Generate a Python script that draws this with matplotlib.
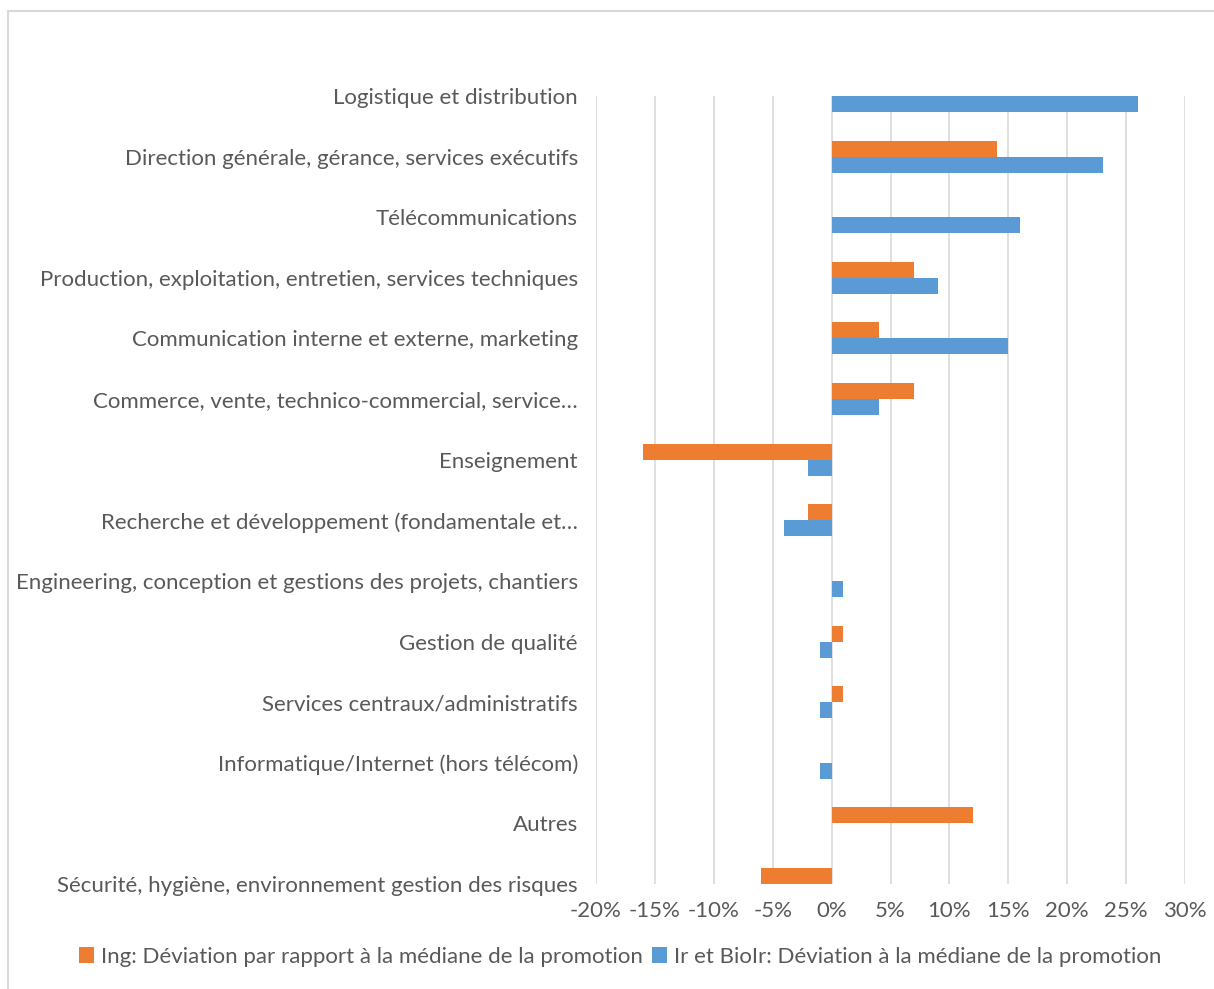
import matplotlib
matplotlib.use("Agg")
import matplotlib.pyplot as plt
import numpy as np
from matplotlib.patches import Rectangle
from matplotlib.ticker import FuncFormatter, MultipleLocator

plt.rcParams["font.family"] = ["Lato", "DejaVu Sans"]

categories = [
    "Logistique et distribution",
    "Direction générale, gérance, services exécutifs",
    "Télécommunications",
    "Production, exploitation, entretien, services techniques",
    "Communication interne et externe, marketing",
    "Commerce, vente, technico-commercial, service…",
    "Enseignement",
    "Recherche et développement (fondamentale et…",
    "Engineering, conception et gestions des projets, chantiers",
    "Gestion de qualité",
    "Services centraux/administratifs",
    "Informatique/Internet (hors télécom)",
    "Autres",
    "Sécurité, hygiène, environnement gestion des risques",
]
ing_values = [0, 14, 0, 7, 4, 7, -16, -2, 0, 1, 1, 0, 12, -6]
ir_values = [26, 23, 16, 9, 15, 4, -2, -4, 1, -1, -1, -1, 0, 0]
series_names = [
    "Ing: Déviation par rapport à la médiane de la promotion",
    "Ir et BioIr: Déviation à la médiane de la promotion",
]

ORANGE = "#ED7D31"
BLUE = "#5B9BD5"
TEXT = "#595959"
GRID = "#D9D9D9"

fig = plt.figure(figsize=(12.14, 9.89), dpi=100)
fig.patches.append(Rectangle((8 / 1214, -0.05), 1.1, 1 - 11 / 989 + 0.05,
                             transform=fig.transFigure, fill=False,
                             edgecolor="#D9D9D9", linewidth=1.5))

ax = fig.add_axes([596 / 1214, 1 - 884 / 989, (1185 - 596) / 1214, (884 - 96) / 989])

y = np.arange(len(categories))
h = 16 / 60.5
ax.barh(y - h / 2, ing_values, height=h, color=ORANGE, label=series_names[0], clip_on=False)
ax.barh(y + h / 2, ir_values, height=h, color=BLUE, label=series_names[1], clip_on=False)

ax.set_ylim(len(categories) - 1, 0)
ax.set_xlim(-20, 30)
ax.xaxis.set_major_locator(MultipleLocator(5))
ax.xaxis.set_major_formatter(FuncFormatter(lambda v, _: f"{v:.0f}%"))
ax.set_yticks(y)
ax.set_yticklabels(categories)

ax.grid(axis="x", color=GRID, linewidth=1.2)
ax.set_axisbelow(True)
for side in ax.spines.values():
    side.set_visible(False)
ax.tick_params(axis="both", length=0, colors=TEXT, labelsize=16)
ax.tick_params(axis="y", pad=13)
ax.tick_params(axis="x", pad=12)

fig.legend(loc="center", bbox_to_anchor=(620 / 1214, 1 - 957 / 989), ncol=2,
           frameon=False, fontsize=16, labelcolor=TEXT, handlelength=0.7,
           handleheight=0.7, handletextpad=0.3, columnspacing=0.4)

fig.savefig("out.png", dpi=100)
